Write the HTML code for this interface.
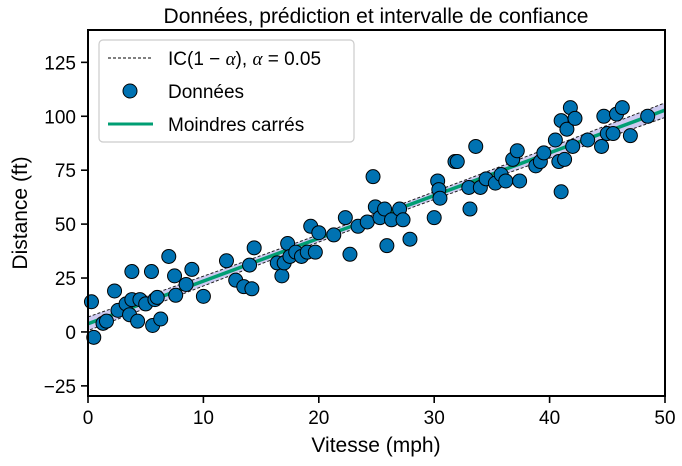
<!DOCTYPE html>
<html><head><meta charset="utf-8"><style>
html,body{margin:0;padding:0;background:#fff;}
svg{display:block;font-family:"Liberation Sans",sans-serif;}
</style></head><body>
<svg id="chart" width="682" height="466" viewBox="0 0 682 466">
<rect width="682" height="466" fill="#fff"/>
<g id="band"></g><g id="marks"></g><g id="axes"></g>
</svg>
<script>
const xs=[0.3,0.5,1.3,1.6,2.3,2.6,3.3,3.6,3.8,3.8,4.3,4.5,5.0,5.5,5.6,5.8,6.0,6.3,7.0,7.5,7.6,8.5,9.0,10.0,12.0,12.8,13.5,14.0,14.2,14.4,16.4,16.8,17.0,17.3,17.5,18.0,18.5,19.0,19.3,19.7,20.0,21.3,22.3,22.7,23.4,24.2,24.7,24.9,25.3,25.7,25.9,26.3,27.0,27.3,27.9,30.0,30.3,30.4,30.5,31.8,32.0,33.0,33.1,33.6,34.0,34.5,35.3,35.8,36.2,36.8,37.2,37.4,38.8,39.2,39.5,40.5,40.8,41.0,41.0,41.3,41.5,41.8,42.0,42.2,43.3,44.5,44.7,45.0,45.5,45.8,46.3,47.0,48.5];
const ys=[14,-2.5,4,5,19,10,13,8,28,15,5,15,13,28,3,15,16,6,35,26,17,22,29,16.5,33,24,21,31,20,39,32,26,32,41,35,37,35,37,49,37,46,45,53,36,49,51,72,58,53,57,40,52,57,52,43,53,70,66,62,79,79,67,57,86,67,71,69,73,70,80,84,70,77,79,83,89,79,65,98,80,94,104,86,99,89,86,100,92,92,101,104,91,100];
const xTicks=[0,10,20,30,40,50];
const yTicks=[-25,0,25,50,75,100,125];
const yTickLabels=["\u221225","0","25","50","75","100","125"];
const X0=88,X1=665,Y0=30,Y1=396,xmin=0,xmax=50,ymin=-29.7,ymax=140;
const sx=v=>X0+(v-xmin)/(xmax-xmin)*(X1-X0);
const sy=v=>Y1-(v-ymin)/(ymax-ymin)*(Y1-Y0);
const NS="http://www.w3.org/2000/svg";
function mk(tag,attrs,parent,text){const e=document.createElementNS(NS,tag);for(const k in attrs)e.setAttribute(k,attrs[k]);if(text!==undefined)e.textContent=text;parent.appendChild(e);return e;}
// least squares
const n=xs.length;const mx=xs.reduce((a,b)=>a+b)/n,my=ys.reduce((a,b)=>a+b)/n;
let sxx=0,sxy=0;for(let i=0;i<n;i++){sxx+=(xs[i]-mx)**2;sxy+=(xs[i]-mx)*(ys[i]-my);}
const b=sxy/sxx,a=my-b*mx;
let sse=0;for(let i=0;i<n;i++)sse+=(ys[i]-a-b*xs[i])**2;
const s=Math.sqrt(sse/(n-2)),t=1.986;
const hw=x=>t*s*Math.sqrt(1/n+(x-mx)**2/sxx);
const band=document.getElementById('band'),marks=document.getElementById('marks'),axes=document.getElementById('axes');
let up=[],lo=[];for(let k=0;k<=50;k++){const x=xmin+(xmax-xmin)*k/50;const y=a+b*x;up.push([sx(x),sy(y+hw(x))]);lo.push([sx(x),sy(y-hw(x))]);}
const bp=mk('path',{d:'M'+up.map(p=>p.join(',')).join('L')+'L'+lo.reverse().map(p=>p.join(',')).join('L')+'Z',fill:'#c8c4f0',opacity:'0.9'},band);

const ul=mk('polyline',{points:up.map(p=>p.join(',')).join(' '),fill:'none',stroke:'#222','stroke-width':'1','stroke-dasharray':'3,2'},band);

const ll=mk('polyline',{points:lo.map(p=>p.join(',')).join(' '),fill:'none',stroke:'#222','stroke-width':'1','stroke-dasharray':'3,2'},band);

const fl=mk('line',{x1:sx(xmin),y1:sy(a+b*xmin),x2:sx(xmax),y2:sy(a+b*xmax),stroke:'#009e73','stroke-width':'3.5'},marks);

for(let i=0;i<n;i++){const c=mk('circle',{cx:sx(xs[i]),cy:sy(ys[i]),r:7,fill:'#0072b2',stroke:'#000','stroke-width':'1'},marks);
}
// frame
const fr=mk('rect',{x:X0,y:Y0,width:X1-X0,height:Y1-Y0,fill:'none',stroke:'#000','stroke-width':'2'},axes);

xTicks.forEach(v=>{const x=sx(v);const tk=mk('line',{x1:x,y1:Y1,x2:x,y2:Y1+7,stroke:'#000','stroke-width':'1.6'},axes);

const tl=mk('text',{x:x,y:Y1+28,'text-anchor':'middle','font-size':'19'},axes,String(v));
});
yTicks.forEach((v,i)=>{const y=sy(v);const tk=mk('line',{x1:X0-7,y1:y,x2:X0,y2:y,stroke:'#000','stroke-width':'1.6'},axes);

const tl=mk('text',{x:X0-12,y:y+7,'text-anchor':'end','font-size':'19'},axes,yTickLabels[i]);
});
</script>
<svg width="682" height="466" style="position:absolute;left:0;top:0">
<text x="376" y="23" text-anchor="middle" font-size="21" font-family="Liberation Sans, sans-serif">Données, prédiction et intervalle de confiance</text>
<text x="376" y="452" text-anchor="middle" font-size="21" font-family="Liberation Sans, sans-serif">Vitesse (mph)</text>
<text transform="translate(27,213) rotate(-90)" text-anchor="middle" font-size="21" font-family="Liberation Sans, sans-serif">Distance (ft)</text>
<g font-family="Liberation Sans, sans-serif" font-size="19">
<rect x="99" y="40" width="255" height="102" rx="4" fill="#fff" fill-opacity="0.85" stroke="#ccc" stroke-width="1.2"/>
<line x1="108" y1="58" x2="153" y2="58" stroke="#000" stroke-width="1" stroke-dasharray="3,2"/>
<text x="168" y="65">IC(1 − <tspan font-family="Liberation Serif, serif" font-style="italic">α</tspan>), <tspan font-family="Liberation Serif, serif" font-style="italic">α</tspan> = 0.05</text>
<circle cx="130" cy="91" r="7" fill="#0072b2" stroke="#000"/>
<text x="168" y="98">Données</text>
<line x1="108" y1="124" x2="153" y2="124" stroke="#009e73" stroke-width="3"/>
<text x="168" y="131">Moindres carrés</text>
</g>
</svg>
</body></html>
